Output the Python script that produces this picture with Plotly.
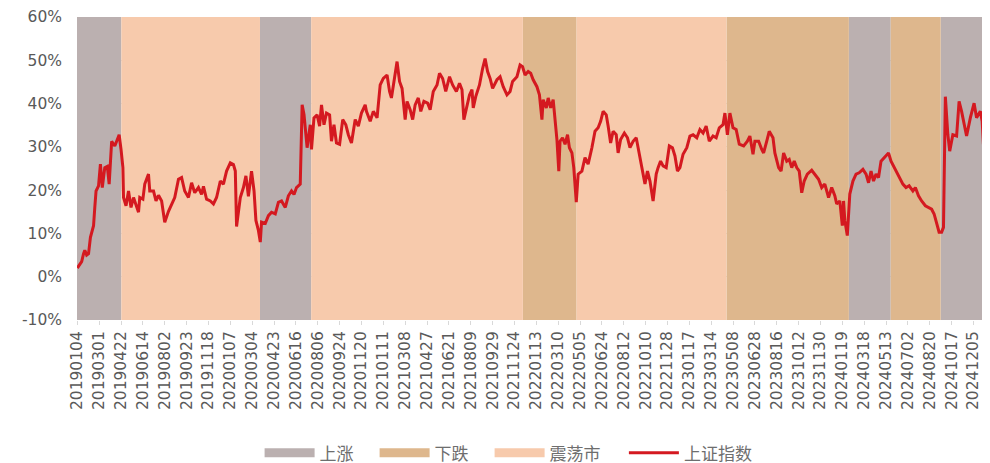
import plotly.graph_objects as go

# ---------------- data ----------------
tick_labels = ["20190104", "20190301", "20190422", "20190614", "20190802", "20190923",
               "20191118", "20200107", "20200304", "20200423", "20200616", "20200806",
               "20200924", "20201120", "20210111", "20210308", "20210427", "20210621",
               "20210809", "20210929", "20211124", "20220113", "20220310", "20220505",
               "20220624", "20220812", "20221010", "20221128", "20230117", "20230314",
               "20230508", "20230628", "20230816", "20231012", "20231130", "20240119",
               "20240318", "20240513", "20240702", "20240820", "20241017", "20241205"]
tick_step = 35          # trading days between labels
n_days = 1462           # trading days shown
y_ticks = [-10, 0, 10, 20, 30, 40, 50, 60]
y_tick_labels = ["-10%", "0%", "10%", "20%", "30%", "40%", "50%", "60%"]

# regime boundaries (trading-day index) and regime of each segment
regime_bounds = [0, 71, 293, 375, 714, 800, 1040, 1236, 1303, 1383, 1462]
regime_types = ["上涨", "震荡市", "上涨", "震荡市", "下跌", "震荡市", "下跌", "上涨", "下跌", "上涨"]

# 上证指数 line (trading-day index, value in %)
day_idx = [0, 3, 7, 10, 12, 15, 18, 21, 24, 26, 28, 30, 34, 37, 40, 44, 48, 51, 55, 58,
           60, 63, 67, 70, 73, 74, 78, 82, 86, 90, 94, 98, 100, 105, 108, 114, 116, 122, 126, 130,
           135, 140, 146, 151, 156, 162, 167, 172, 178, 183, 188, 194, 199, 202, 207, 213, 218, 223, 229, 234,
           239, 245, 250, 253, 255, 261, 266, 270, 274, 279, 283, 286, 290, 293, 295, 301, 306, 311, 317, 322,
           327, 333, 338, 343, 347, 351, 357, 360, 363, 368, 373, 375, 379, 384, 388, 391, 395, 399, 404, 407,
           411, 415, 420, 425, 430, 434, 439, 445, 450, 455, 461, 463, 469, 474, 480, 485, 490, 496, 500, 503,
           508, 512, 516, 520, 525, 528, 533, 537, 541, 546, 550, 555, 561, 565, 570, 576, 580, 585, 590, 596,
           601, 607, 612, 616, 619, 624, 628, 632, 634, 638, 644, 649, 653, 657, 661, 665, 672, 677, 682, 688,
           693, 697, 704, 709, 713, 717, 722, 726, 730, 736, 740, 744, 746, 751, 754, 758, 762, 768, 771, 773,
           777, 781, 785, 788, 792, 795, 799, 802, 808, 813, 818, 824, 829, 834, 838, 842, 847, 850, 854, 858,
           863, 866, 870, 876, 881, 885, 890, 895, 898, 904, 909, 913, 917, 922, 927, 930, 934, 938, 943, 948,
           953, 957, 961, 965, 970, 976, 981, 986, 992, 997, 1002, 1007, 1012, 1018, 1023, 1028, 1034, 1037, 1041, 1045,
           1050, 1055, 1060, 1067, 1073, 1077, 1082, 1085, 1091, 1096, 1099, 1104, 1108, 1114, 1117, 1123, 1127, 1131, 1136, 1140,
           1144, 1148, 1152, 1156, 1160, 1164, 1169, 1176, 1181, 1187, 1192, 1197, 1203, 1208, 1213, 1216, 1221, 1225, 1227, 1229,
           1233, 1237, 1242, 1247, 1252, 1258, 1263, 1267, 1271, 1275, 1279, 1283, 1287, 1292, 1299, 1303, 1307, 1312, 1317, 1322,
           1327, 1332, 1338, 1342, 1347, 1352, 1358, 1363, 1368, 1372, 1376, 1380, 1384, 1387, 1390, 1394, 1397, 1402, 1408, 1412,
           1416, 1420, 1424, 1430, 1436, 1440, 1446, 1449, 1451, 1455, 1461]
sh_index = [2.0, 2.8, 3.5, 5.3, 6.1, 5.0, 5.3, 9.1, 11.0, 11.8, 16.0, 19.8, 21.0, 26.0, 20.6, 25.2, 25.5, 21.4, 31.3, 30.5,
            30.2, 31.3, 32.8, 29.4, 25.2, 18.3, 16.4, 19.8, 16.0, 18.3, 16.7, 14.9, 18.3, 17.9, 21.4, 23.7, 19.8, 19.8, 17.5, 18.8,
            17.5, 12.6, 15.1, 16.8, 18.3, 22.5, 22.9, 19.8, 18.3, 21.7, 19.4, 20.6, 19.0, 20.9, 17.9, 17.5, 16.8, 18.3, 22.1, 21.4,
            24.4, 26.3, 25.9, 24.4, 11.6, 18.3, 20.6, 23.3, 18.6, 24.4, 19.8, 13.0, 10.7, 8.0, 12.6, 12.3, 14.1, 14.9, 14.5, 17.2,
            17.5, 16.0, 18.7, 19.8, 19.0, 20.6, 21.4, 39.7, 37.5, 29.8, 35.1, 29.4, 36.7, 37.4, 34.8, 39.7, 35.1, 37.8, 37.4, 31.3,
            35.1, 30.9, 30.6, 36.3, 35.1, 32.8, 30.9, 36.3, 34.8, 37.8, 39.7, 38.2, 35.9, 38.2, 36.7, 44.3, 45.8, 46.6, 42.8, 41.3,
            45.8, 49.7, 45.1, 43.5, 36.3, 40.5, 38.6, 36.3, 39.7, 41.3, 38.2, 40.5, 40.1, 38.6, 42.8, 44.3, 47.0, 45.8, 42.8, 46.2,
            44.3, 42.8, 44.7, 43.2, 36.3, 39.3, 42.0, 43.2, 39.0, 41.6, 44.3, 48.1, 50.4, 47.4, 45.8, 43.5, 45.5, 46.2, 43.9, 42.0,
            42.8, 45.1, 46.2, 48.9, 48.5, 46.6, 47.4, 47.0, 45.5, 43.9, 42.0, 36.3, 40.9, 39.0, 41.3, 39.0, 40.9, 31.7, 24.4, 31.3,
            32.1, 30.6, 32.8, 29.8, 28.6, 25.2, 17.2, 23.7, 24.4, 27.5, 26.0, 29.8, 33.6, 34.4, 35.9, 38.2, 37.4, 34.8, 30.9, 33.6,
            32.8, 28.6, 31.7, 33.2, 32.1, 29.8, 31.3, 32.1, 29.8, 25.2, 21.4, 24.4, 22.1, 17.5, 23.7, 25.2, 26.7, 25.6, 25.2, 30.2,
            29.8, 27.9, 24.4, 25.2, 28.3, 29.8, 32.5, 32.8, 32.1, 34.0, 33.2, 34.8, 31.3, 32.5, 32.1, 34.4, 35.1, 37.8, 32.8, 37.8,
            34.4, 34.0, 30.6, 30.2, 31.3, 32.5, 28.3, 31.3, 31.3, 29.4, 28.6, 31.3, 33.6, 32.1, 28.6, 25.2, 24.4, 28.6, 26.7, 27.1,
            25.2, 26.7, 25.2, 24.4, 19.4, 22.1, 23.7, 24.6, 23.7, 22.5, 20.6, 21.4, 18.3, 20.6, 18.7, 16.8, 17.5, 11.8, 17.5, 13.0,
            9.5, 19.1, 22.1, 23.7, 24.0, 24.8, 23.7, 21.7, 24.4, 22.1, 23.7, 22.9, 26.7, 27.5, 28.6, 26.7, 25.6, 24.4, 22.9, 21.4,
            20.6, 21.0, 19.8, 20.6, 18.7, 17.5, 16.4, 16.0, 15.6, 14.5, 12.6, 10.3, 10.3, 11.4, 41.6, 32.8, 29.0, 32.8, 32.5, 40.5,
            38.2, 35.1, 32.5, 36.7, 40.1, 36.7, 38.2, 35.9, 30.6, 29.0, 30.6]

y_min, y_max = -10, 60
regime_colors = {"上涨": "#BBB0B0", "下跌": "#DEB78D", "震荡市": "#F7CAAC"}
legend_order = ["上涨", "下跌", "震荡市"]
line_color = "#D41920"
legend_font = dict(family="Noto Sans CJK SC", size=17, color="#6E6E6E")

# ---------------- figure ----------------
fig = go.Figure()

# background regime bands (bars spanning the full y range)
for name in legend_order:
    xs, ws = [], []
    for a, b, t in zip(regime_bounds[:-1], regime_bounds[1:], regime_types):
        if t == name:
            xs.append((a + b) / 2 - 0.5)
            ws.append(b - a)
    fig.add_trace(go.Bar(x=xs, y=[y_max - y_min] * len(xs), base=[y_min] * len(xs), width=ws,
                         marker=dict(color=regime_colors[name], line=dict(width=0)),
                         name=name, showlegend=False, legendgroup=name, hoverinfo="skip"))

# legend entries for the bands (wide flat swatches)
for name in legend_order:
    fig.add_trace(go.Scatter(x=[None], y=[None], mode="lines", name=name, legendgroup=name,
                             line=dict(color=regime_colors[name], width=9)))

fig.add_trace(go.Scatter(x=day_idx, y=sh_index, mode="lines", name="上证指数", legend="legend2",
                         line=dict(color=line_color, width=3)))

# the page body adds an 8px offset, so the figure is sized to the visible 982x455 area
plot_bottom = 143
fig.update_layout(
    width=982, height=455,
    margin=dict(l=69, r=0, t=9, b=plot_bottom, autoexpand=False),
    paper_bgcolor="white", plot_bgcolor="white",
    barmode="overlay",
    showlegend=True,
    legend=dict(orientation="h", x=0.2, xanchor="left", y=-0.44, yanchor="middle",
                font=legend_font, itemwidth=50, entrywidth=50, entrywidthmode="pixels",
                bgcolor="rgba(0,0,0,0)"),
    legend2=dict(orientation="h", x=0.599, xanchor="left", y=-0.44, yanchor="middle",
                 font=legend_font, itemwidth=50, bgcolor="rgba(0,0,0,0)"),
    font=dict(family="DejaVu Sans", color="#595959"),
)

fig.update_xaxes(
    range=[-0.5, n_days - 0.5],
    tickmode="array",
    tickvals=[i * tick_step for i in range(len(tick_labels))],
    ticktext=tick_labels,
    tickangle=-90,
    tickfont=dict(family="DejaVu Sans", size=15.5, color="#595959"),
    ticks="outside", ticklen=4, tickcolor="#D9D9D9",
    showgrid=False, zeroline=False, showline=False, automargin=False,
    ticklabeloverflow="allow",
)
fig.update_yaxes(
    range=[y_min, y_max],
    tickmode="array", tickvals=y_ticks, ticktext=y_tick_labels,
    tickfont=dict(family="DejaVu Sans", size=15.5, color="#595959"),
    showgrid=True, gridcolor="#D9D9D9", griddash="dash", gridwidth=1,
    zeroline=False, showline=False, automargin=False,
    ticklabelstandoff=14, ticklabeloverflow="allow",
)

fig.write_html("out.html")
